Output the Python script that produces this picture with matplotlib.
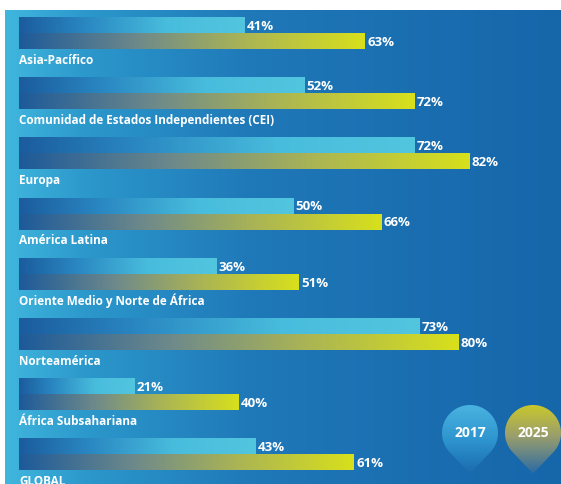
import numpy as np
import matplotlib.pyplot as plt
from matplotlib.colors import LinearSegmentedColormap
from matplotlib.path import Path
from matplotlib.patches import PathPatch

# data
regions = [
    "Asia-Pacífico",
    "Comunidad de Estados Independientes (CEI)",
    "Europa",
    "América Latina",
    "Oriente Medio y Norte de África",
    "Norteamérica",
    "África Subsahariana",
    "GLOBAL",
]
vals_2017 = [41, 52, 72, 50, 36, 73, 21, 43]
vals_2025 = [63, 72, 82, 66, 51, 80, 40, 61]
years = ["2017", "2025"]

FONT = ["Open Sans", "DejaVu Sans"]
plt.rcParams['font.family'] = FONT

cmap_bg = LinearSegmentedColormap.from_list(
    "bg", [(0, "#40b6dd"), (0.15, "#2b97cb"), (0.45, "#1f78b8"), (1, "#1666aa")])
cmap_17 = LinearSegmentedColormap.from_list(
    "c17", [(0, "#1b5c9e"), (0.3, "#2a88c2"), (0.65, "#48bcdc"), (1, "#52c6df")])
cmap_25 = LinearSegmentedColormap.from_list(
    "c25", [(0, "#1d5a9a"), (0.35, "#6f8a8a"), (0.65, "#aab455"), (1, "#d8e01c")])

fig = plt.figure(figsize=(5.61, 4.84), dpi=100)
fig.patch.set_facecolor("white")

# x: percent (0% at px 19, 5.49 px per %), y: group index (60.2 px per group)
px_x = 5.49
x0 = -19 / px_x
x1 = (561 - 19) / px_x
y_top = -33 / 60.2
y_bot = (484 - 33) / 60.2

ax = fig.add_axes([0, 0, 1, 1])
ax.set_xlim(x0, x1)
ax.set_ylim(y_bot, y_top)
ax.axis("off")

# background panel
grad = np.linspace(0, 1, 256).reshape(1, -1)
ax.imshow(grad, cmap=cmap_bg, aspect="auto",
          extent=(x0 + 5 / px_x, x1, y_bot, y_top + 10 / 60.2), zorder=0)

bh = 16 / 60.2
for i, (name, v17, v25) in enumerate(zip(regions, vals_2017, vals_2025)):
    ax.imshow(grad, cmap=cmap_17, aspect="auto",
              extent=(0, v17, i, i - bh), zorder=2)
    ax.imshow(grad, cmap=cmap_25, aspect="auto",
              extent=(0, v25, i + bh, i), zorder=2)
    ax.text(v17 + 0.4, i - bh / 2 + 0.02, f"{v17}%", color="white", fontsize=9.5,
            fontweight="bold", va="center", ha="left", zorder=3)
    ax.text(v25 + 0.4, i + bh / 2 + 0.02, f"{v25}%", color="white", fontsize=9.5,
            fontweight="bold", va="center", ha="left", zorder=3)
    ax.text(0, i + 0.45, name, color="white", fontsize=8.5, fontweight="bold",
            va="center", ha="left", zorder=3)

ax.set_xlim(x0, x1)
ax.set_ylim(y_bot, y_top)

# legend pins, drawn in pixel space
lax = fig.add_axes([0, 0, 1, 1])
lax.set_xlim(0, 561)
lax.set_ylim(484, 0)
lax.axis("off")


def pin_path(cx, cy, r, d):
    a = np.arccos(r / d)
    phi = np.linspace(a, 2 * np.pi - a, 80)
    pts = np.column_stack([cx + r * np.sin(phi), cy + r * np.cos(phi)])
    pts = np.vstack([pts, [cx, cy + d], pts[0]])
    return Path(pts, closed=True)


pin_cmaps = [
    LinearSegmentedColormap.from_list("p17", [(0, "#4ab3e0"), (0.5, "#2e95cf"), (1, "#1a6aad")]),
    LinearSegmentedColormap.from_list("p25", [(0, "#c9c82c"), (0.45, "#9a9e6c"), (1, "#2a6aa6")]),
]
pin_x = [470, 533]
pin_y = 433
r = 28
vgrad = np.linspace(0, 1, 256).reshape(-1, 1)
for cx, cm, label in zip(pin_x, pin_cmaps, years):
    path = pin_path(cx, pin_y, r, 1.45 * r)
    patch = PathPatch(path, facecolor="none", edgecolor="none")
    lax.add_patch(patch)
    im = lax.imshow(vgrad, cmap=cm, aspect="auto",
                    extent=(cx - r, cx + r, pin_y + 1.45 * r, pin_y - r), zorder=2)
    im.set_clip_path(patch)
    lax.text(cx, pin_y, label, color="white", fontsize=10, fontweight="bold",
             ha="center", va="center", zorder=3)

lax.set_xlim(0, 561)
lax.set_ylim(484, 0)

fig.savefig("out.png", dpi=100)
